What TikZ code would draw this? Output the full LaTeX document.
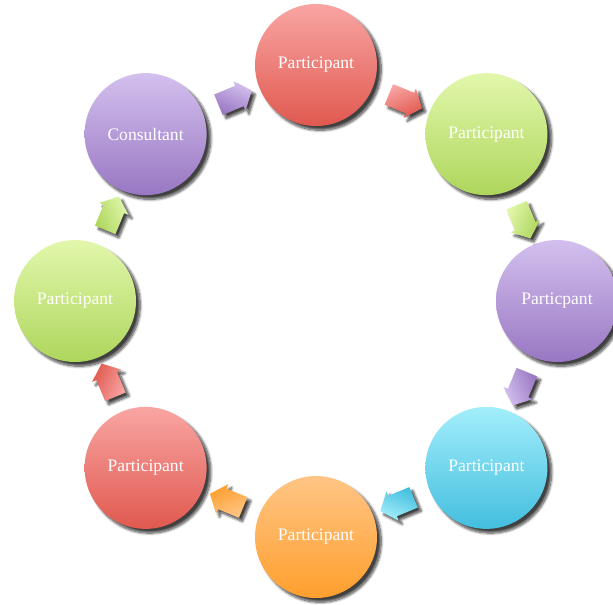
\documentclass[tikz,border=0pt]{standalone}
\usepackage{fontspec}
\setmainfont{Liberation Serif}
\usetikzlibrary{calc,shapes.arrows,shadows.blur}

\definecolor{redtop}{HTML}{F9A5A3}
\definecolor{redbot}{HTML}{E0594F}
\definecolor{greentop}{HTML}{E2F7AC}
\definecolor{greenbot}{HTML}{AED65C}
\definecolor{purpletop}{HTML}{D3C0EE}
\definecolor{purplebot}{HTML}{9977C3}
\definecolor{cyantop}{HTML}{A3EEFB}
\definecolor{cyanbot}{HTML}{43BEDF}
\definecolor{orangetop}{HTML}{FFC585}
\definecolor{orangebot}{HTML}{FF9F2E}

\tikzset{
    member/.style = {circle, minimum size=3.05cm, inner sep=0pt, text=white,
        font=\fontsize{12.5}{14}\selectfont,
        blur shadow={shadow xshift=3pt, shadow yshift=-3pt, shadow blur steps=10, shadow opacity=75}},
    flow/.style = {single arrow, minimum height=0.9cm, minimum width=0.78cm,
        single arrow head extend=0.12cm, single arrow tip angle=100,
        inner xsep=0pt, inner ysep=0.27cm,
        blur shadow={shadow xshift=2.5pt, shadow yshift=-2.5pt, shadow blur steps=8, shadow opacity=75}},
    redfill/.style = {top color=redtop, bottom color=redbot},
    greenfill/.style = {top color=greentop, bottom color=greenbot},
    purplefill/.style = {top color=purpletop, bottom color=purplebot},
    cyanfill/.style = {top color=cyantop, bottom color=cyanbot},
    orangefill/.style = {top color=orangetop, bottom color=orangebot}
}

\begin{document}
\begin{tikzpicture}
    \useasboundingbox (-7.9,-7.6) rectangle (7.425,7.525);

    % ring of circles, clockwise from the top
    \node[member, redfill] (p1) at (90:6.025cm and 5.9cm) {Participant};
    \node[member, greenfill] (p2) at (45:6.025cm and 5.9cm) {Participant};
    \node[member, purplefill] (p3) at (0:6.025cm and 5.9cm) {Particpant};
    \node[member, cyanfill] (p4) at (-45:6.025cm and 5.9cm) {Participant};
    \node[member, orangefill] (p5) at (-90:6.025cm and 5.9cm) {Participant};
    \node[member, redfill] (p6) at (-135:6.025cm and 5.9cm) {Participant};
    \node[member, greenfill] (p7) at (180:6.025cm and 5.9cm) {Participant};
    \node[member, purplefill] (cons) at (135:6.025cm and 5.9cm) {Consultant};

    % arrows between neighbours
    \node[flow, redfill, rotate=-22.5, shading angle=22.5] (f1) at ($(p1)!.5!(p2)$) {};
    \node[flow, greenfill, rotate=-67.5, shading angle=67.5] (f2) at ($(p2)!.5!(p3)$) {};
    \node[flow, purplefill, rotate=-112.5, shading angle=112.5] (f3) at ($(p3)!.5!(p4)$) {};
    \node[flow, cyanfill, rotate=-157.5, shading angle=157.5] (f4) at ($(p4)!.5!(p5)$) {};
    \node[flow, orangefill, rotate=157.5, shading angle=-157.5] (f5) at ($(p5)!.5!(p6)$) {};
    \node[flow, redfill, rotate=112.5, shading angle=-112.5] (f6) at ($(p6)!.5!(p7)$) {};
    \node[flow, greenfill, rotate=67.5, shading angle=-67.5] (f7) at ($(p7)!.5!(cons)$) {};
    \node[flow, purplefill, rotate=22.5, shading angle=-22.5] (f8) at ($(cons)!.5!(p1)$) {};
\end{tikzpicture}
\end{document}
